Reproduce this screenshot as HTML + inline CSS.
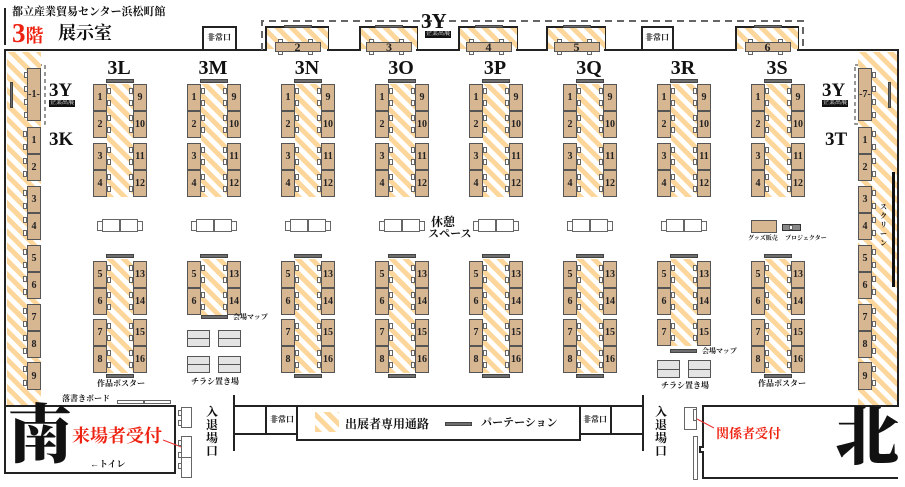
<!DOCTYPE html>
<html><head><meta charset="utf-8">
<style>
html,body{margin:0;padding:0;background:#fff;}
#c{position:relative;width:905px;height:487px;overflow:hidden;background:#fff;font-family:"Liberation Serif","Noto Serif CJK SC",serif;}
#c div{position:absolute;box-sizing:border-box;}
.st{background:repeating-linear-gradient(45deg,#fcd69a 0 5px,#fff 5px 10px);}
.tb{background:#d7b692;border:1px solid #555;font-weight:bold;font-size:10px;color:#222;display:flex;align-items:center;justify-content:center;}
.ch{background:#fff;border:1px solid #666;}
.pt{background:#6e6e6e;border:1px solid #444;}
.lb{font-weight:bold;color:#111;white-space:nowrap;line-height:1;}
.bd{background:#111;color:#fff;font-size:6px;line-height:7px;padding:0 1px;white-space:nowrap;}
.gr{background:#e4e4e4;border:1px solid #555;}
svg{position:absolute;left:0;top:0;}
</style></head><body>
<div id="c">
<svg width="905" height="487">
 <g fill="none" stroke="#222" stroke-width="2">
  <polyline points="5,406 5,50 266,50 266,27 328,27 328,50 360,50 360,27 417,27 417,50 459,50 459,27 517,27 517,50 547,50 547,27 605,27 605,50 736,50 736,27 798,27 798,50 898,50 898,406 702,406"/>
  <rect x="203" y="27" width="33" height="23" fill="#fff"/>
  <rect x="642" y="27" width="31" height="23" fill="#fff"/>
  <polyline points="5,406 175,406 175,473 5,473 5,406"/>
  <polyline points="703,406 703,447 700,447 700,452 703,452 703,478 898,478"/>
  <line x1="234" y1="395" x2="234" y2="451"/>
  <line x1="643" y1="395" x2="643" y2="451"/>
  <line x1="234" y1="406" x2="643" y2="406"/>
  <line x1="234" y1="434" x2="297" y2="434"/>
  <line x1="580" y1="434" x2="643" y2="434"/>
  <rect x="297" y="406" width="283" height="34" fill="#fff"/>
  <line x1="266" y1="406" x2="266" y2="434"/>
  <line x1="611" y1="406" x2="611" y2="434"/>
  <line x1="5" y1="8" x2="5" y2="45"/>
 </g>
 <polyline points="262,50 262,21 803,21 803,50" fill="none" stroke="#666" stroke-width="2" stroke-dasharray="7,5"/>
 <rect x="24" y="65" width="21" height="59" fill="none" stroke="#777" stroke-width="1.5" stroke-dasharray="4,3"/>
 <rect x="855" y="65" width="21" height="59" fill="none" stroke="#777" stroke-width="1.5" stroke-dasharray="4,3"/>
 <line x1="163" y1="440" x2="184" y2="448" stroke="#e33" stroke-width="1"/>
 <line x1="697" y1="419" x2="714" y2="428" stroke="#e33" stroke-width="1"/>
</svg>
</div>
<script>
var C=document.getElementById('c');
function d(x,y,w,h,cls,txt,sty){var e=document.createElement('div');e.className=cls||'';e.style.left=x+'px';e.style.top=y+'px';if(w!=null)e.style.width=w+'px';if(h!=null)e.style.height=h+'px';if(txt!=null)e.innerHTML=txt;if(sty)e.style.cssText+=sty;C.appendChild(e);return e;}
function T(x,y,s,txt,sty){return d(x,y,null,null,'lb',txt,'font-size:'+s+'px;'+(sty||''));}
// side stripes
d(7,52,34,353,'st');d(858,52,39,353,'st');
// bumps stripes
[[267,328],[361,417],[460,517],[548,605],[737,798]].forEach(function(b,i){
 d(b[0],28,b[1]-b[0],21,'st');
 var cx=(b[0]+b[1])/2;
 d(cx-14,25,28,3,'pt');
 d(cx-20,39,5,4,'ch');d(cx+10,39,5,4,'ch');d(cx-20,51,5,4,'ch');d(cx+10,51,5,4,'ch');
 d(cx-23,42,46,10,'tb',''+(i+2),'font-size:12px;');
});
// side tables
function sideT(x,y,h,n,chx){d(chx,y+4,4,6,'ch');d(chx,y+h-10,4,6,'ch');d(x,y,14,h,'tb',n);}
// 3Y left 1
[72,86,99,112].forEach(function(y){d(24,y,4,6,'ch');});
d(27,68,14,53,'tb','-1-');
d(10,82,3,26,'pt');
var lr=[[127,'1'],[154,'2'],[186,'3'],[213,'4'],[245,'5'],[272,'6'],[304,'7'],[331,'8'],[362,'9']];
lr.forEach(function(r){sideT(27,r[0],r[0]==362?28:27,r[1],23);});
// right 3Y 7 and 3T
[72,86,99,112].forEach(function(y){d(872,y,4,6,'ch');});
d(858,68,14,53,'tb','-7-');
d(888,82,3,26,'pt');
lr.forEach(function(r){sideT(858,r[0],r[0]==362?28:27,r[1],872);});
d(892,172,3,115,'',null,'background:#111;');
T(880,203,7,'ス<br>ク<br>リ<br>ー<br>ン','line-height:9px;');
// blocks
var xs=[93,187,281,375,469,563,657,751],names=['3L','3M','3N','3O','3P','3Q','3R','3S'];
xs.forEach(function(L,i){
 T(L+6,58,20,names[i],'width:40px;text-align:center;');
 d(L+13,79,28,4,'pt');
 d(L+14,84,26,113,'st');
 var up=[84,111,143,170];
 up.forEach(function(y,k){
  d(L,y,14,27,'tb',''+(k+1));d(L+14,y+4,4,6,'ch');d(L+14,y+16,4,6,'ch');
  d(L+40,y,14,27,'tb',''+(k+9));d(L+36,y+4,4,6,'ch');d(L+36,y+16,4,6,'ch');
 });
 var lo=[261,288,319,346],nrow=4;
 if(i==1)nrow=2; if(i==6)nrow=3;
 d(L+13,254,28,4,'pt');
 d(L+14,259,26,lo[nrow-1]+27-259,'st');
 for(var k=0;k<nrow;k++){var y=lo[k];
  d(L,y,14,27,'tb',''+(k+5));d(L+14,y+4,4,6,'ch');d(L+14,y+16,4,6,'ch');
  d(L+40,y,14,27,'tb',''+(k+13));d(L+36,y+4,4,6,'ch');d(L+36,y+16,4,6,'ch');
 }
 if(nrow==4)d(L+13,374,28,4,'pt');
 // break tables
 if(i<7){
  d(L+4,221,6,10,'ch');d(L+44,221,6,10,'ch');
  d(L+9,219,18,13,'ch');d(L+27,219,18,13,'ch');
 }
});
// 3M extras
d(201,315,27,4,'pt');T(233,314,7,'会場マップ');
d(187,330,23,17,'gr');d(218,330,23,17,'gr');d(187,356,23,17,'gr');d(218,356,23,17,'gr');
d(187,338,23,1,'',null,'background:#555');d(218,338,23,1,'',null,'background:#555');d(187,364,23,1,'',null,'background:#555');d(218,364,23,1,'',null,'background:#555');
T(191,378,8,'チラシ置き場');
// 3R extras
d(670,349,27,4,'pt');T(702,348,7,'会場マップ');
d(657,360,23,18,'gr');d(688,360,23,18,'gr');
d(657,369,23,1,'',null,'background:#555');d(688,369,23,1,'',null,'background:#555');
T(661,382,8,'チラシ置き場');
T(97,380,8,'作品ポスター');T(758,380,8,'作品ポスター');
// 3S goods
d(751,220,26,13,'tb','');T(748,236,6,'グッズ販売');
d(782,224,19,7,'',null,'background:#888;border:1px solid #333;');d(789,225,4,5,'ch');
T(785,236,6,'プロジェクター');
T(431,216,12,'休憩');T(428,229,11,'スペース');
// labels 3Y etc
T(421,11,21,'3Y');d(425,31,26,7,'bd','企業出展');
T(49,81,19,'3Y');d(49,100,26,7,'bd','企業出展');
T(49,130,19,'3K');
T(822,81,19,'3Y');d(822,100,26,7,'bd','企業出展');
T(825,130,19,'3T');
// header
T(12,7,11,'都立産業貿易センター浜松町館');
T(12,20,27,'3<span style="font-size:18px">階</span>','color:#e21;');
T(58,24,18,'展示室');
T(207,34,8,'非常口');T(645,34,8,'非常口');
// bottom
T(62,395,8,'落書きボード');
d(117,400,27,4,'ch');d(144,400,27,4,'ch');
T(8,404,64,'南','font-weight:900;');
T(72,427,18,'来場者受付','color:#e21;');
T(90,460,9,'←トイレ');
d(181,407,11,21,'ch');d(178,410,4,6,'ch');d(178,420,4,6,'ch');
d(181,436,11,42,'ch');d(181,457,11,1,'',null,'background:#666');d(178,440,4,6,'ch');d(178,452,4,6,'ch');d(178,463,4,6,'ch');
T(206,406,12,'入<br>退<br>場<br>口','line-height:13px;');
T(270,416,8,'非常口');T(583,416,8,'非常口');
d(315,412,24,20,'st');T(345,418,12,'出展者専用通路');
d(445,422,27,4,'pt');T(481,418,11,'パーテーション');
T(655,406,12,'入<br>退<br>場<br>口','line-height:13px;');
d(684,407,13,23,'ch');d(693,409,4,12,'ch');
d(693,436,5,44,'ch');
T(716,427,13,'関係者受付','color:#e21;');
T(835,406,64,'北','font-weight:900;');
</script>
</body></html>
